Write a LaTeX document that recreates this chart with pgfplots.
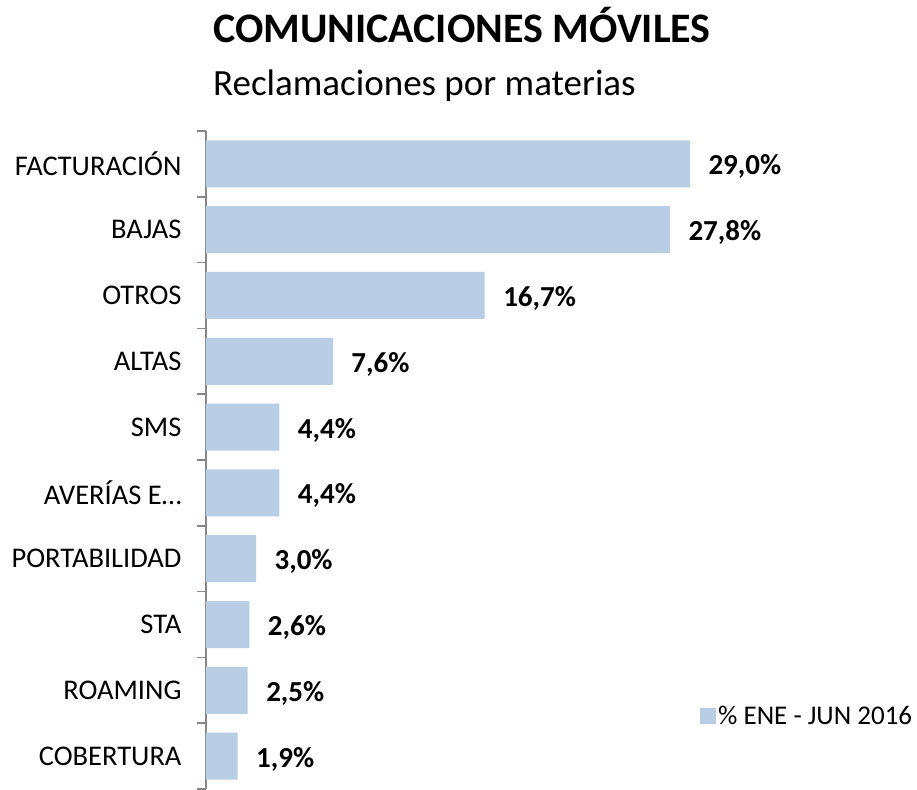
\documentclass[border=0pt]{standalone}
\usepackage{pgfplots}
\pgfplotsset{compat=1.18}
\usepackage{fontspec}
\setmainfont{Carlito}
\definecolor{barblue}{HTML}{B9CDE5}
\definecolor{axgray}{HTML}{868686}
\begin{document}
\begin{tikzpicture}
\path[use as bounding box] (-206pt,0pt) rectangle (711pt,789pt);
\begin{axis}[
  at={(0,0)}, anchor=south west,
  scale only axis,
  width=484pt, height=658pt,
  xmin=0, xmax=29,
  ymin=-0.5, ymax=9.5,
  y dir=reverse,
  axis x line=none,
  axis y line*=left,
  y axis line style={draw=axgray, line width=1.5pt},
  ytick={0,...,9},
  yticklabels={FACTURACIÓN,BAJAS,OTROS,ALTAS,SMS,AVERÍAS E…,PORTABILIDAD,STA,ROAMING,COBERTURA},
  major tick length=0pt,
  minor ytick={-0.5,0.5,...,9.5},
  minor tick length=9pt,
  tick align=outside,
  minor tick style={draw=axgray, line width=1.5pt},
  yticklabel style={font=\fontsize{28.5}{32}\selectfont, xshift=-21pt},
  clip=false,
  xbar, bar width=47pt,
  nodes near coords,
  point meta=explicit symbolic,
  every node near coord/.append style={font=\bfseries\fontsize{29}{33}\selectfont, anchor=west, xshift=15pt, yshift=-3pt, text=black},
  legend style={draw=none, fill=none, at={(axis cs:29.6,8.39)}, anchor=west, font=\fontsize{27}{31}\selectfont, inner sep=0pt},
  legend image code/.code={\fill[barblue] (0pt,-8pt) rectangle (16pt,8pt);},
]
\addplot[fill=barblue, draw=none] table[x=v, y=c, meta=l] {
c v l
0 29.0 29,0\%
1 27.8 27,8\%
2 16.7 16,7\%
3 7.6 7,6\%
4 4.4 4,4\%
5 4.4 4,4\%
6 3.0 3,0\%
7 2.6 2,6\%
8 2.5 2,5\%
9 1.9 1,9\%
};
\addlegendentry{\% ENE - JUN 2016}
\end{axis}
\node[anchor=base west, font=\bfseries\fontsize{42}{46}\selectfont, inner sep=0pt] at (7pt,746pt) {COMUNICACIONES MÓVILES};
\node[anchor=base west, font=\fontsize{37}{42}\selectfont, inner sep=0pt] at (7pt,693pt) {Reclamaciones por materias};
\end{tikzpicture}
\end{document}
